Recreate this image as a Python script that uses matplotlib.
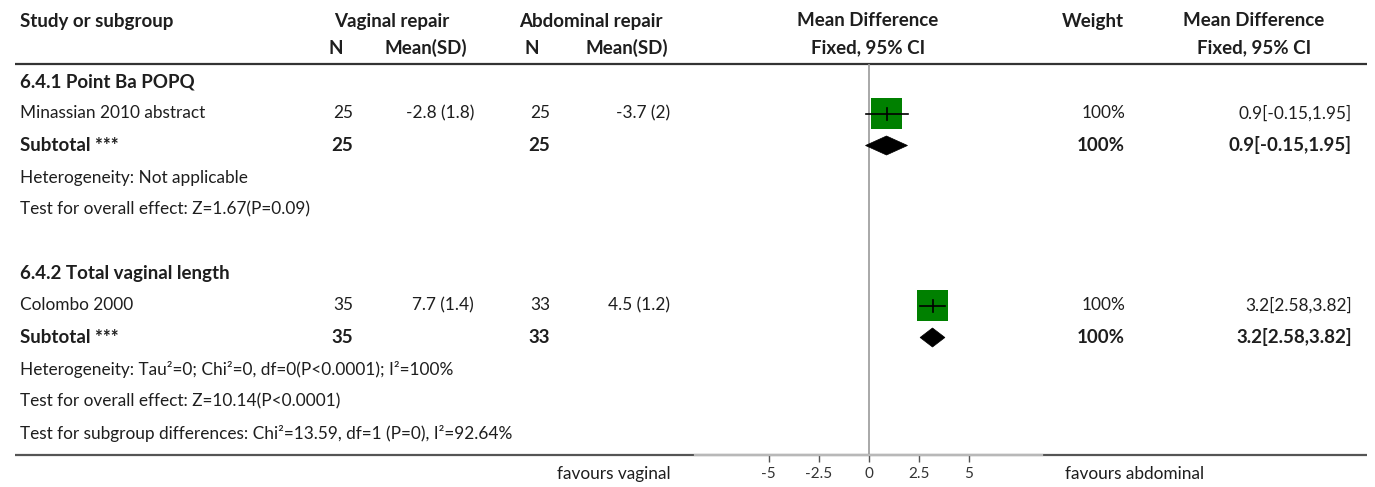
import matplotlib
matplotlib.use("Agg")
import matplotlib.pyplot as plt
from matplotlib.patches import Rectangle, Polygon

# ---- data ----
row_labels = [
    "6.4.1 Point Ba POPQ",
    "Minassian 2010 abstract",
    "Subtotal ***",
    "Heterogeneity: Not applicable",
    "Test for overall effect: Z=1.67(P=0.09)",
    "",
    "6.4.2 Total vaginal length",
    "Colombo 2000",
    "Subtotal ***",
    "Heterogeneity: Tau\u00b2=0; Chi\u00b2=0, df=0(P<0.0001); I\u00b2=100%",
    "Test for overall effect: Z=10.14(P<0.0001)",
    "Test for subgroup differences: Chi\u00b2=13.59, df=1 (P=0), I\u00b2=92.64%",
]
row_kind = ["group", "study", "subtotal", "note", "note", "blank",
            "group", "study", "subtotal", "note", "note", "note"]
vag_n = ["", "25", "25", "", "", "", "", "35", "35", "", "", ""]
vag_mean_sd = ["", "-2.8 (1.8)", "", "", "", "", "", "7.7 (1.4)", "", "", "", ""]
abd_n = ["", "25", "25", "", "", "", "", "33", "33", "", "", ""]
abd_mean_sd = ["", "-3.7 (2)", "", "", "", "", "", "4.5 (1.2)", "", "", "", ""]
md = [None, 0.9, 0.9, None, None, None, None, 3.2, 3.2, None, None, None]
ci_low = [None, -0.15, -0.15, None, None, None, None, 2.58, 2.58, None, None, None]
ci_high = [None, 1.95, 1.95, None, None, None, None, 3.82, 3.82, None, None, None]
weight = [None, 100, 100, None, None, None, None, 100, 100, None, None, None]
axis_ticks = [-5, -2.5, 0, 2.5, 5]
axis_tick_labels = ["-5", "-2.5", "0", "2.5", "5"]
x_limits = (-8.675, 8.675)

# ---- layout (pixels) ----
W, H = 1375, 487
ROW0, ROWH = 81.5, 32.0
FONT = "Lato"
FS = 12.4
FS_BOLD = 13.5

fig = plt.figure(figsize=(W / 100, H / 100), dpi=100)
fig.patch.set_facecolor("white")

tx = fig.add_axes([0, 0, 1, 1])
tx.set_xlim(0, W)
tx.set_ylim(H, 0)
tx.axis("off")


def row_y(i):
    return ROW0 + ROWH * i


def put(x, y, s, ha="left", bold=False, color="#1e1e1e"):
    tx.text(x, y, s, ha=ha, va="center", fontsize=FS_BOLD if bold else FS,
            family=FONT, fontweight="bold" if bold else "normal", color=color)


# column headers
put(20, 21, "Study or subgroup", bold=True)
put(392, 21, "Vaginal repair", ha="center", bold=True)
put(591, 21, "Abdominal repair", ha="center", bold=True)
put(868, 21, "Mean Difference", ha="center", bold=True)
put(1124, 21, "Weight", ha="right", bold=True)
put(1254, 21, "Mean Difference", ha="center", bold=True)
put(336, 48, "N", ha="center", bold=True)
put(467, 48, "Mean(SD)", ha="right", bold=True)
put(532, 48, "N", ha="center", bold=True)
put(668, 48, "Mean(SD)", ha="right", bold=True)
put(868, 48, "Fixed, 95% CI", ha="center", bold=True)
put(1254, 48, "Fixed, 95% CI", ha="center", bold=True)

# rules
tx.plot([15, 1367], [63.5, 63.5], color="#333333", lw=1.6, solid_capstyle="butt")
tx.plot([15, 1367], [455, 455], color="#555555", lw=1.6, solid_capstyle="butt")

# rows
for i, label in enumerate(row_labels):
    y = row_y(i)
    kind = row_kind[i]
    bold = kind in ("group", "subtotal")
    if label:
        put(20, y, label, bold=bold)
    if vag_n[i]:
        put(353, y, vag_n[i], ha="right", bold=bold)
    if vag_mean_sd[i]:
        put(474, y, vag_mean_sd[i], ha="right")
    if abd_n[i]:
        put(550, y, abd_n[i], ha="right", bold=bold)
    if abd_mean_sd[i]:
        put(670, y, abd_mean_sd[i], ha="right")
    if weight[i] is not None:
        put(1125, y, f"{weight[i]}%", ha="right", bold=bold)
        put(1352, y, f"{md[i]:g}[{ci_low[i]:g},{ci_high[i]:g}]", ha="right", bold=bold)

put(671, 474, "favours vaginal", ha="right")
put(1065, 474, "favours abdominal", ha="left")

# ---- forest axes ----
ax_left, ax_right = 695, 1042
ax_top, ax_bottom = 64, 455
ax = fig.add_axes([ax_left / W, (H - ax_bottom) / H,
                   (ax_right - ax_left) / W, (ax_bottom - ax_top) / H])
ax.set_facecolor("none")
ax.set_xlim(*x_limits)
y_top = (ax_top - ROW0) / ROWH
y_bot = (ax_bottom - ROW0) / ROWH
ax.set_ylim(y_bot, y_top)
for s in ("top", "left", "right"):
    ax.spines[s].set_visible(False)
ax.spines["bottom"].set_color("#b8b8b8")
ax.spines["bottom"].set_linewidth(1.6)
ax.set_yticks([])
ax.set_xticks(axis_ticks)
ax.set_xticklabels(axis_tick_labels, family=FONT, fontsize=11, color="#333333")
ax.tick_params(axis="x", length=5, width=1, color="#555555", pad=4)

px_per_x = (ax_right - ax_left) / (x_limits[1] - x_limits[0])
px_per_row = ROWH

ax.axvline(0, color="#999999", lw=1.2, zorder=1)

for i in range(len(row_labels)):
    if md[i] is None:
        continue
    if row_kind[i] == "study":
        side_px = 31 * (weight[i] / 100) ** 0.5
        hw = side_px / 2 / px_per_x
        hh = side_px / 2 / px_per_row
        ax.add_patch(Rectangle((md[i] - hw, i - hh), 2 * hw, 2 * hh,
                               facecolor="#008000", edgecolor="none", zorder=2))
        ax.plot([ci_low[i], ci_high[i]], [i, i], color="black", lw=1.2, zorder=3)
        tick_h = 6 / px_per_row
        ax.plot([md[i], md[i]], [i - tick_h, i + tick_h], color="black", lw=1.2, zorder=3)
    else:
        dh = 9.5 / px_per_row
        ax.add_patch(Polygon([(ci_low[i], i), (md[i], i - dh), (ci_high[i], i), (md[i], i + dh)],
                             closed=True, facecolor="black", edgecolor="black", lw=0.5, zorder=3))

fig.savefig("out.png", dpi=100, facecolor="white")
